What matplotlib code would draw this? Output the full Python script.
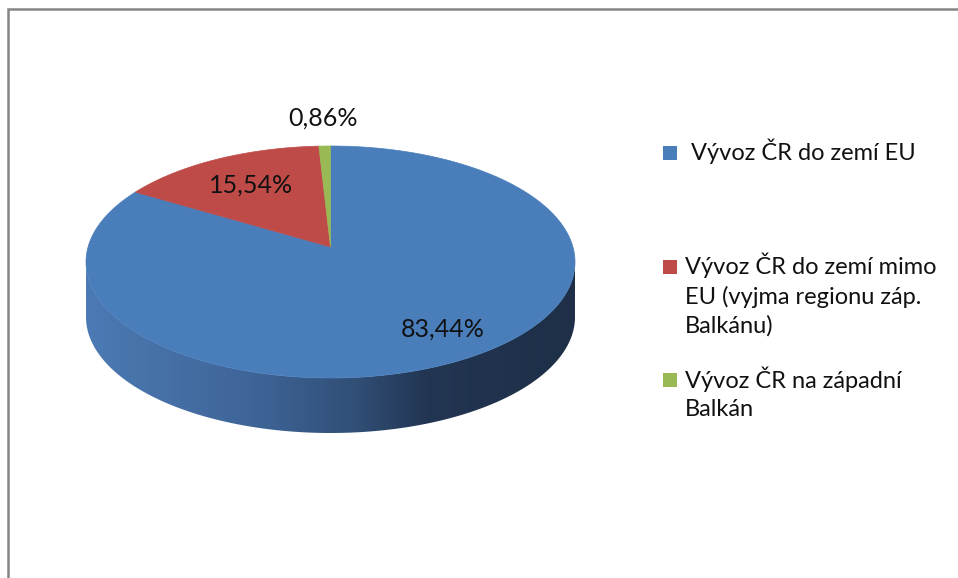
import numpy as np
import matplotlib
matplotlib.use("Agg")
import matplotlib.pyplot as plt
from matplotlib.patches import Polygon, Rectangle
from matplotlib.colors import LinearSegmentedColormap

# data
categories = [" Vývoz ČR do zemí EU",
              "Vývoz ČR do zemí mimo\nEU (vyjma regionu záp.\nBalkánu)",
              "Vývoz ČR na západní\nBalkán"]
shares = [83.44, 15.54, 0.86]
value_labels = ["83,44%", "15,54%", "0,86%"]
top_colors = ["#4a7ebb", "#be4b48", "#98b954"]

plt.rcParams["font.family"] = ["Lato", "DejaVu Sans"]

W, H = 958, 578
fig = plt.figure(figsize=(W / 100, H / 100), dpi=100)
ax = fig.add_axes([0, 0, 1, 1])
ax.set_xlim(0, W)
ax.set_ylim(H, 0)
ax.axis("off")

# pie layout in pixels
cx, cy = 330.5, 262
rx, ry = 244.5, 116
depth = 55
k = 0.13  # perspective: how far the pie centre sits above the ellipse centre
ch, sh = 1 / np.sqrt(1 - k ** 2), k / np.sqrt(1 - k ** 2)


def project(r, theta):
    x = r * np.cos(theta)
    y = r * np.sin(theta)
    w = sh * y + ch
    return cx + rx * x / w, cy - ry * (ch * y + sh) / w


# side of the pie (only the front, which is all blue here)
phi = np.linspace(np.pi, 2 * np.pi, 200)
top_x, top_y = cx + rx * np.cos(phi), cy - ry * np.sin(phi)
side_pts = np.column_stack([np.r_[top_x, top_x[::-1]],
                            np.r_[top_y, top_y[::-1] + depth]])
side = Polygon(side_pts, closed=True, facecolor="none", edgecolor="none")
ax.add_patch(side)
side_cmap = LinearSegmentedColormap.from_list(
    "side", [(0, "#4c7ab4"), (0.35, "#3e6497"), (0.55, "#314f77"),
             (0.7, "#223552"), (1, "#1e2f47")])
grad = np.linspace(0, 1, 256).reshape(1, -1)
img = ax.imshow(grad, cmap=side_cmap, aspect="auto",
                extent=(cx - rx, cx + rx, cy + ry + depth, cy - 5))
img.set_clip_path(side)

# top face
bounds = np.radians(90 - 360 * np.r_[0, np.cumsum(shares)] / sum(shares))
for i, color in enumerate(top_colors):
    t = np.linspace(bounds[i], bounds[i + 1], 300)
    px, py = project(1, t)
    ox, oy = project(0, 0)
    pts = np.column_stack([np.r_[ox, px], np.r_[oy, py]])
    ax.add_patch(Polygon(pts, closed=True, facecolor=color, edgecolor=color, lw=0.5))

# value labels (radius fraction + small angle nudge, like Excel's best fit)
label_radius = [0.78, 0.68, 1.33]
label_nudge = [3.2, 0, 0]
for i, lab in enumerate(value_labels):
    mid = (bounds[i] + bounds[i + 1]) / 2 + np.radians(label_nudge[i])
    lx, ly = project(label_radius[i], mid)
    ax.text(lx, ly, lab, ha="center", va="center", fontsize=18, color="#111111")

# legend
leg_x, leg_y, leg_step = 663, 153, 113.5
for i, (cat, color) in enumerate(zip(categories, top_colors)):
    y = leg_y + i * leg_step
    ax.add_patch(Rectangle((leg_x, y - 7), 14, 14, facecolor=color, edgecolor="none"))
    ax.text(leg_x + 22, y - 14, cat, ha="left", va="top", fontsize=17, color="#111111",
            linespacing=1.42)

# chart frame
ax.plot([8.5, 8.5, W + 5], [H + 5, 8.5, 8.5], color="#868686", lw=1.8,
        solid_joinstyle="miter", clip_on=False)

fig.savefig("out.png", dpi=100, facecolor="white")
